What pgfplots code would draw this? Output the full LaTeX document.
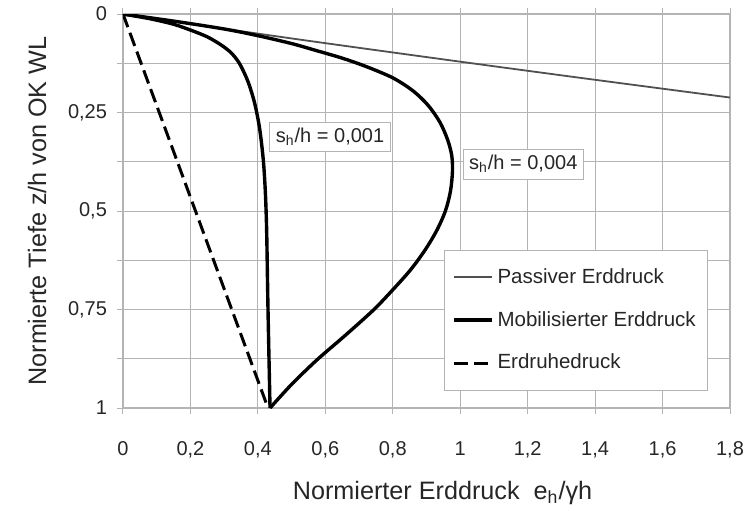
\documentclass[border=0pt]{standalone}
\usepackage{pgfplots}
\pgfplotsset{compat=1.18}
\usepackage{fontspec}
\setmainfont{Liberation Sans}
\definecolor{gridc}{HTML}{B4B4B4}
\definecolor{passc}{HTML}{505050}
\definecolor{txt}{HTML}{262626}
\begin{document}
\begin{tikzpicture}
\begin{axis}[
  scale only axis, width=303.5pt, height=197pt,
  xmin=0, xmax=1.8, ymin=0, ymax=1, y dir=reverse,
  xtick={0,0.2,0.4,0.6,0.8,1,1.2,1.4,1.6,1.8},
  xticklabels={0,{0,2},{0,4},{0,6},{0,8},1,{1,2},{1,4},{1,6},{1,8}},
  ytick={0,0.25,0.5,0.75,1},
  yticklabels={0,{0,25},{0,5},{0,75},1},
  minor ytick={0.125,0.375,0.625,0.875},
  grid=both,
  major grid style={gridc, line width=0.5pt},
  minor grid style={gridc, line width=0.5pt},
  axis line style={gridc, line width=0.6pt},
  tick style={gridc, line width=0.5pt},
  tick align=outside, major tick length=3pt, minor tick length=3pt,
  xtick pos=both, ytick pos=left,
  ticklabel style={font=\fontsize{10}{11}\selectfont, text=txt},
  xticklabel style={yshift=-10pt, text height=7.2pt, text depth=2pt},
  yticklabel style={xshift=-1.5pt},
  xlabel={Normierter Erddruck\ \ e\textsubscript{h}/γh},
  ylabel={Normierte Tiefe z/h von OK WL},
  xlabel shift=4pt, ylabel shift=4pt,
  xlabel style={xshift=8pt},
  label style={font=\fontsize{12.6}{14}\selectfont, text=txt},
  legend style={at={(0.964,0.401)}, anchor=north east, draw=gridc,
    font=\fontsize{10.25}{12}\selectfont, text=txt, row sep=8.5pt,
    inner xsep=4pt, inner ysep=7pt},
  legend cell align=left,
  legend image code/.code={\draw[#1] (-4.5pt,0pt) -- (14.5pt,0pt);},
]
% Passiver Erddruck
\addplot[passc, line width=0.9pt, smooth] coordinates {
 (0,0) (0.5,0.062) (1,0.121) (1.4,0.167) (1.8,0.212)};
\addlegendentry{Passiver Erddruck}
% s_h/h = 0,001
\addplot[black, line width=1.7pt, smooth] coordinates {
 (0,0) (0.08,0.012) (0.15,0.026) (0.204,0.042) (0.25,0.058) (0.29,0.078)
 (0.32,0.098) (0.345,0.125) (0.37,0.17) (0.39,0.225) (0.405,0.29)
 (0.416,0.37) (0.422,0.45) (0.426,0.55) (0.43,0.75) (0.436,1)};
\addlegendentry{Mobilisierter Erddruck}
% Erdruhedruck
\addplot[black, line width=1.5pt, dash pattern=on 7pt off 3pt] coordinates {
 (0,0) (0.43,1)};
\addlegendentry{Erdruhedruck}
% s_h/h = 0,004
\addplot[black, line width=1.7pt, smooth, forget plot] coordinates {
 (0,0) (0.15,0.018) (0.3,0.038) (0.4,0.055) (0.5,0.075) (0.57,0.092)
 (0.65,0.112) (0.72,0.133) (0.8,0.162) (0.86,0.195) (0.905,0.232)
 (0.94,0.275) (0.963,0.32) (0.975,0.36) (0.977,0.4) (0.971,0.45)
 (0.956,0.5) (0.93,0.55) (0.895,0.6) (0.852,0.65) (0.8,0.7)
 (0.743,0.751) (0.66,0.815) (0.575,0.878) (0.5,0.94) (0.436,1)};
\node[draw=gridc, fill=white, text=txt, font=\fontsize{10}{12}\selectfont, inner sep=3pt]
  at (axis cs:0.614,0.312) {s\textsubscript{h}/h = 0,001};
\node[draw=gridc, fill=white, text=txt, font=\fontsize{10}{12}\selectfont, inner sep=3pt]
  at (axis cs:1.187,0.381) {s\textsubscript{h}/h = 0,004};
\end{axis}
\pgfresetboundingbox
\path (current axis.south west) ++(-61.5pt,-51pt) rectangle ([xshift=10.5pt,yshift=7pt]current axis.north east);
\end{tikzpicture}
\end{document}
